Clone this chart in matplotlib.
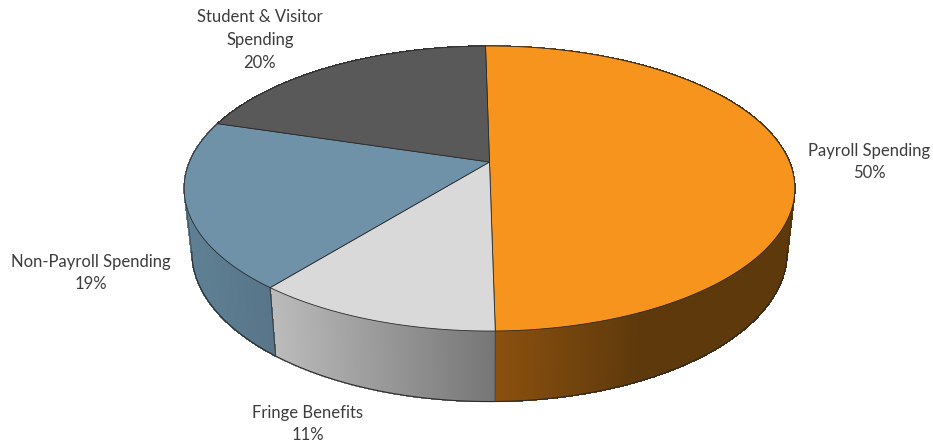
"""Tilted 3D pie of spending shares, drawn with a small perspective projection."""

import matplotlib
matplotlib.use("Agg")
import matplotlib.pyplot as plt
import numpy as np
from matplotlib.collections import PolyCollection
from matplotlib.colors import to_rgb

# ---------------------------------------------------------------------------
# Data
# ---------------------------------------------------------------------------

categories = ["Payroll Spending", "Fringe Benefits", "Non-Payroll Spending", "Student & Visitor\nSpending"]
shares = [50, 11, 19, 20]

top_colors = ["#F7941D", "#D9D9D9", "#7092A8", "#595959"]

# wall shade at left and right end of each slice, and the x range it runs over
wall_shades = [
    ("#8A500F", "#5E390C", 500, 640),
    ("#BDBDBD", "#747474", 268, 500),
    ("#5F8094", "#587589", 190, 272),
    ("#404040", "#404040", 190, 490),
]

label_xy = [(869, 162), (308, 424), (91, 273), (260, 40)]

# ---------------------------------------------------------------------------
# Projection of the unit disc onto the page (pixel coordinates)
# ---------------------------------------------------------------------------

CENTER_X = 489.5
SPREAD_X = 300.0
SLOPE_Y = 107.45
APEX_Y = 162.0
TILT = -0.186
START_DEG = -0.9

# bottom rim relative to the top rim
BOTTOM_KX = 0.975
BOTTOM_KY = 1.05
BOTTOM_DY = 54.0


def project(theta):
    """Map clockwise-from-top angles (radians) on the rim to page x, y."""
    u, v = np.sin(theta), -np.cos(theta)
    denom = 1 + TILT * v
    return CENTER_X + SPREAD_X * u / denom, (SLOPE_Y * v + APEX_Y) / denom


def project_bottom(theta):
    x, y = project(theta)
    return CENTER_X + (x - CENTER_X) * BOTTOM_KX, y * BOTTOM_KY + BOTTOM_DY


def blend(c0, c1, t):
    return tuple((1 - t) * a + t * b for a, b in zip(to_rgb(c0), to_rgb(c1)))


fig = plt.figure(figsize=(9.33, 4.44), dpi=100)
ax = fig.add_axes([0, 0, 1, 1])
ax.set_xlim(0, 933)
ax.set_ylim(444, 0)
ax.axis("off")

edges = np.deg2rad(START_DEG + 360 * np.cumsum([0] + shares) / sum(shares))
EDGE_COLOR = "#2A2A2A"

# ---------------------------------------------------------------------------
# Side wall, one thin quad per step so the shading runs across it
# ---------------------------------------------------------------------------

for i, shade in enumerate(wall_shades):
    left, right, x0, x1 = shade
    theta = np.linspace(edges[i], edges[i + 1], 240)
    xt, yt = project(theta)
    xb, yb = project_bottom(theta)
    quads, colors = [], []
    for j in range(len(theta) - 1):
        quads.append([(xt[j], yt[j]), (xt[j + 1], yt[j + 1]), (xb[j + 1], yb[j + 1]), (xb[j], yb[j])])
        t = np.clip(((xt[j] + xb[j]) / 2 - x0) / (x1 - x0), 0, 1)
        colors.append(blend(left, right, t))
    # no antialiasing here, otherwise the seams between quads show up as stripes
    ax.add_collection(PolyCollection(quads, facecolors=colors, edgecolors=colors, linewidths=0.5,
                                     antialiaseds=False, zorder=1))

# bottom rim and outer silhouette of the wall
theta = np.linspace(edges[0], edges[-1], 1440)
xt, yt = project(theta)
xb, yb = project_bottom(theta)
right_idx = np.argmax(xb)
left_idx = np.argmin(xb)
ax.plot(xb[right_idx:left_idx + 1], yb[right_idx:left_idx + 1], color=EDGE_COLOR, lw=0.8, zorder=2)
ax.plot([xt[np.argmax(xt)], xb[right_idx]], [yt[np.argmax(xt)], yb[right_idx]], color="#4A3010", lw=0.6, zorder=2)
ax.plot([xt[np.argmin(xt)], xb[left_idx]], [yt[np.argmin(xt)], yb[left_idx]], color="#3C4F5C", lw=0.6, zorder=2)

# slice joints visible on the front of the wall
for e in edges[1:3]:
    x_top, y_top = project(e)
    x_bot, y_bot = project_bottom(e)
    ax.plot([x_top, x_bot], [y_top, y_bot], color="#3A3A3A", lw=0.7, zorder=2)

# ---------------------------------------------------------------------------
# Top face and labels
# ---------------------------------------------------------------------------

for i, color in enumerate(top_colors):
    theta = np.linspace(edges[i], edges[i + 1], 300)
    x, y = project(theta)
    xs = np.r_[CENTER_X, x]
    ys = np.r_[APEX_Y, y]
    ax.fill(xs, ys, facecolor=color, edgecolor=EDGE_COLOR, lw=0.6, joinstyle="round", zorder=3)

for name, value, (lx, ly) in zip(categories, shares, label_xy):
    ax.text(lx, ly, f"{name}\n{value}%", ha="center", va="center", fontsize=12,
            family="Lato", color="#3C3C3C", linespacing=1.52, zorder=4)

fig.savefig("out.png", dpi=100)
